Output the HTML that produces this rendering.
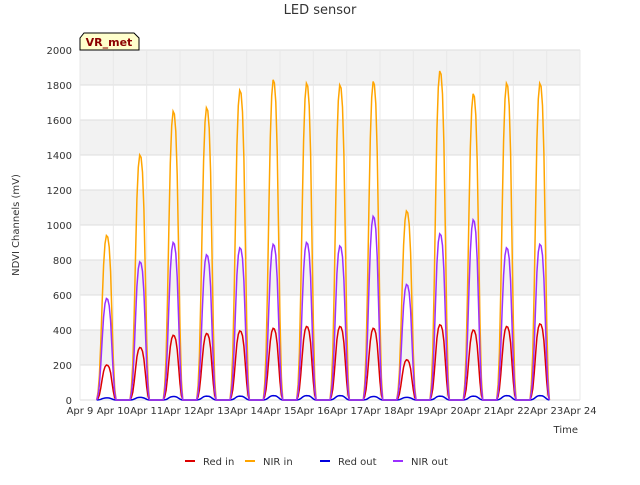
<!DOCTYPE html>
<html><head><meta charset="utf-8"><style>
body{margin:0;background:#fff;font-family:"Liberation Sans",sans-serif}
svg text{font-family:"DejaVu Sans","Liberation Sans",sans-serif}
</style></head><body>
<svg id="c" width="640" height="480">
<text x="320" y="14" text-anchor="middle" font-size="13" fill="#333">LED sensor</text>
<g id="bands"></g><g id="grid"></g><g id="series"></g><g id="axes"></g>
<text x="19" y="225" transform="rotate(-90 19 225)" text-anchor="middle" font-size="10" fill="#333">NDVI Channels (mV)</text>
<text x="578" y="433" text-anchor="end" font-size="10" fill="#333">Time</text>
<g>
<path d="M80,50 L80,38 L84,33 L134,33 L139,38 L139,50 Z" fill="#ffffcc" stroke="#000" stroke-width="1"/>
<text x="109" y="46" text-anchor="middle" font-size="11" font-weight="bold" fill="#8b0000">VR_met</text></g>
<g id="legend"></g>
</svg>
<script>
const dayLabels=["Apr 9","Apr 10","Apr 11","Apr 12","Apr 13","Apr 14","Apr 15","Apr 16","Apr 17","Apr 18","Apr 19","Apr 20","Apr 21","Apr 22","Apr 23","Apr 24"];
const yTicks=[0,200,400,600,800,1000,1200,1400,1600,1800,2000];
const nirInPeaks=[940,1400,1650,1670,1770,1830,1810,1800,1820,1080,1880,1750,1810,1810];
const nirOutPeaks=[580,790,900,830,870,890,900,880,1050,660,950,1030,870,890];
const redInPeaks=[200,300,370,380,395,410,420,420,410,230,430,400,420,435];
const redOutPeaks=[12,15,20,22,22,25,25,25,20,15,22,22,25,25];
const profile=[0,0.05,0.15,0.35,0.6,0.82,0.95,1,0.99,0.93,0.78,0.52,0.25,0.07,0];
const NS="http://www.w3.org/2000/svg",x0=80,x1=580,y0=400,y1=50;
const xs=d=>x0+(x1-x0)*d/15, ys=v=>y0-(y0-y1)*v/2000;
function el(t,a,p){const e=document.createElementNS(NS,t);for(const k in a)e.setAttribute(k,a[k]);document.getElementById(p).appendChild(e);return e;}
for(let i=0;i<yTicks.length-1;i++){if(i%2==1){const r=el('rect',{x:x0,y:ys(yTicks[i+1]),width:x1-x0,height:ys(yTicks[i])-ys(yTicks[i+1]),fill:'#f2f2f2'},'bands');

}}
yTicks.forEach(v=>{const l=el('line',{x1:x0,x2:x1,y1:ys(v),y2:ys(v),stroke:'#ddd'},'grid');


const t=el('text',{x:x0-8,y:ys(v)+4,'text-anchor':'end','font-size':10,fill:'#333'},'axes');t.textContent=v;

});
dayLabels.forEach((s,i)=>{const l=el('line',{x1:xs(i),x2:xs(i),y1:y1,y2:y0,stroke:'#e8e8e8'},'grid');


const t=el('text',{x:xs(i),y:y0+14,'text-anchor':'middle','font-size':10,fill:'#333'},'axes');t.textContent=s;

});
const series=[["Red in",redInPeaks,"#dd0000"],["NIR in",nirInPeaks,"#ffa500"],["Red out",redOutPeaks,"#0000dd"],["NIR out",nirOutPeaks,"#9b30ff"]];
series.forEach(([n,pk,c])=>{let d="";pk.forEach((p,i)=>{profile.forEach((f,h)=>{const t=i+0.5+h/24;d+=(d?"L":"M")+xs(t).toFixed(1)+","+ys(p*f).toFixed(1);});});
const pa=el('path',{d:d,fill:'none',stroke:c,'stroke-width':1.5},'series');

});
const lx=[185,245,320,393];
series.forEach(([n,pk,c],i)=>{const g=el('g',{},'legend');


const l=document.createElementNS(NS,'line');l.setAttribute('x1',lx[i]);l.setAttribute('x2',lx[i]+10);l.setAttribute('y1',461);l.setAttribute('y2',461);l.setAttribute('stroke',c);l.setAttribute('stroke-width',2);g.appendChild(l);
const t=document.createElementNS(NS,'text');t.setAttribute('x',lx[i]+18);t.setAttribute('y',465);t.setAttribute('font-size',10);t.setAttribute('fill','#333');t.textContent=n;g.appendChild(t);});
</script>
</body></html>
